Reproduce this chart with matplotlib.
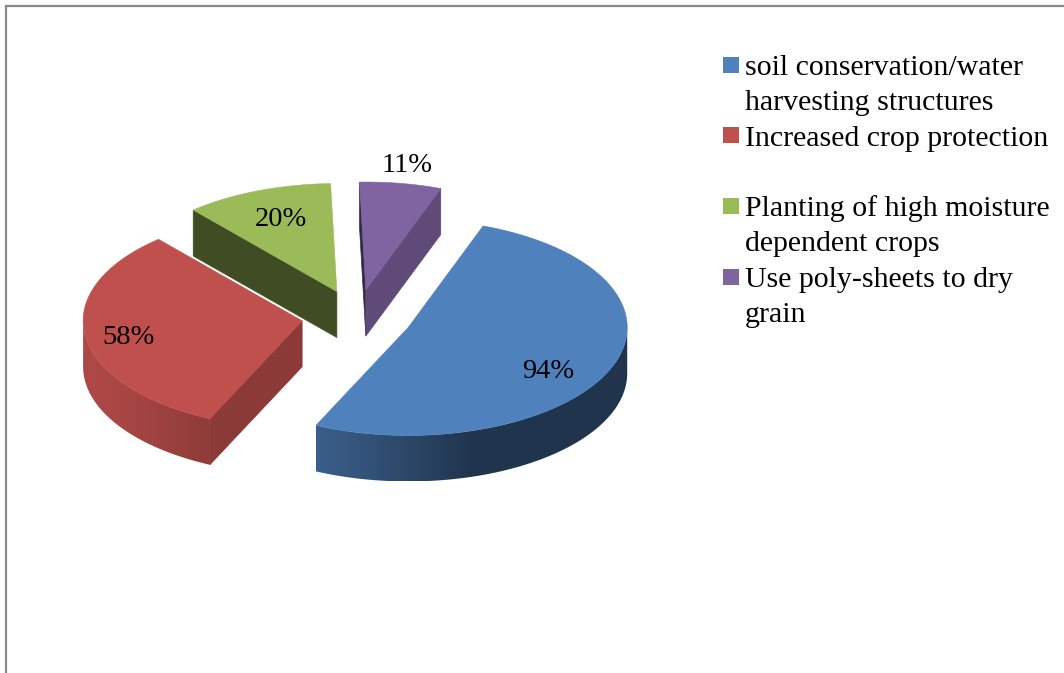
import numpy as np
import matplotlib
matplotlib.use("Agg")
import matplotlib.pyplot as plt
from matplotlib.patches import Polygon, Rectangle
from matplotlib.lines import Line2D
from matplotlib.colors import to_rgb

# ---------------- data ----------------
categories = ["soil conservation/water\nharvesting structures",
              "Increased crop protection",
              "Planting of high moisture\ndependent crops",
              "Use poly-sheets to dry\ngrain"]
values = [94, 58, 20, 11]
pct_labels = ["94%", "58%", "20%", "11%"]
colors = ["#4F81BD", "#C0504D", "#9BBB59", "#8064A2"]

# ---------------- layout ----------------
W, H = 1064, 673
CX, CY = 357, 317          # pie centre (pixels)
RX, RY = 219, 108          # ellipse radii of the tilted pie
DEPTH = 46                 # thickness of the 3-D pie
EXPLODE = 0.253            # explode distance (fraction of radius)
START = 20.0               # angle of first slice (deg, clockwise from top)
label_r = [0.69, 0.80, 0.70, 1.17]
label_dy = [16, 5, -2, 0]
FONT = "Liberation Serif"

fig = plt.figure(figsize=(W / 100, H / 100), dpi=100)
ax = fig.add_axes([0, 0, 1, 1])
ax.set_xlim(0, W)
ax.set_ylim(H, 0)
ax.axis("off")


def ell(vx, vy, th):
    t = np.radians(th)
    return vx + RX * np.sin(t), vy - RY * np.cos(t)


def shade(c, f):
    r, g, b = to_rgb(c)
    return (r * f, g * f, b * f)


def side_factor(th):
    t = np.radians(th)
    return 0.41 + np.maximum(0.0, -0.47 * np.sin(t) - 0.14 * np.cos(t))


total = float(sum(values))
spans = [v / total * 360.0 for v in values]
starts = START + np.concatenate([[0], np.cumsum(spans)[:-1]])

slices = []
for i, (s, sp) in enumerate(zip(starts, spans)):
    mid = s + sp / 2
    vx, vy = ell(CX, CY, mid)
    vx = CX + (vx - CX) * EXPLODE
    vy = CY + (vy - CY) * EXPLODE
    slices.append((i, s, s + sp, mid, vx, vy))

# draw back to front
for i, s, e, mid, vx, vy in sorted(slices, key=lambda t: t[5]):
    col = colors[i]
    # radial cut faces
    for th, sign in ((s, -1), (e, 1)):
        t = np.radians(th)
        nx, ny = sign * np.cos(t), sign * np.sin(t)
        if ny > 0:
            px, py = ell(vx, vy, th)
            f = 0.41 + 0.35 * max(0.0, nx)
            poly = [(vx, vy), (px, py), (px, py + DEPTH), (vx, vy + DEPTH)]
            ax.add_patch(Polygon(poly, closed=True, facecolor=shade(col, f),
                                 edgecolor=shade(col, f), lw=0.5))
    # outer curved side (front part only: 90..270 deg), gradient fill
    lo = max(s, 90.0) if s < 270 else None
    hi = min(e, 270.0)
    if lo is not None and hi > lo:
        ths = np.linspace(lo, hi, 400)
        top = [ell(vx, vy, th) for th in ths]
        bot = [(x, y + DEPTH) for x, y in top[::-1]]
        clip = Polygon(top + bot, closed=True, facecolor="none", edgecolor="none")
        ax.add_patch(clip)
        xs = np.array([p[0] for p in top])
        ys = np.array([p[1] for p in top])
        x0, x1 = xs.min(), xs.max()
        y0, y1 = ys.min(), ys.max() + DEPTH
        cols = np.linspace(x0, x1, 600)
        sinv = np.clip((cols - vx) / RX, -1, 1)
        thc = 180.0 - np.degrees(np.arcsin(sinv))
        fac = side_factor(thc)
        rgb = np.array(to_rgb(col))
        img = (fac[:, None] * rgb[None, :])[None, :, :]
        im = ax.imshow(img, extent=(x0, x1, y1, y0), aspect="auto",
                       interpolation="bilinear", origin="upper", zorder=1)
        im.set_clip_path(clip)
        # draw a thin outline of the same shade to hide aliasing
        edge = Polygon(top + bot, closed=True, facecolor="none",
                       edgecolor="none", zorder=1)
        ax.add_patch(edge)
    # top face
    arc = [ell(vx, vy, th) for th in np.linspace(s, e, 300)]
    ax.add_patch(Polygon([(vx, vy)] + arc, closed=True, facecolor=col,
                         edgecolor=col, lw=0.4, zorder=1))

# percentage labels
for i, s, e, mid, vx, vy in slices:
    px, py = ell(0, 0, mid)
    ax.text(vx + label_r[i] * px, vy + label_r[i] * py + label_dy[i], pct_labels[i],
            ha="center", va="center", fontsize=20.5, family=FONT, color="black", zorder=5)

# legend
LX, LT, STEP, LINE = 745, 75, 70.7, 35
for i, cat in enumerate(categories):
    base = LT + i * STEP
    ax.add_patch(Rectangle((723, base - 18.5), 16, 16, facecolor=colors[i], edgecolor="none"))
    for j, line in enumerate(cat.split("\n")):
        ax.text(LX, base + j * LINE, line, ha="left", va="baseline",
                fontsize=21.5, family=FONT, color="black")

# chart border
ax.add_line(Line2D([6, 6], [6, H], color="#8a8a8a", lw=1.6))
ax.add_line(Line2D([6, W], [6, 6], color="#8a8a8a", lw=1.6))

fig.savefig("out.png", dpi=100)
